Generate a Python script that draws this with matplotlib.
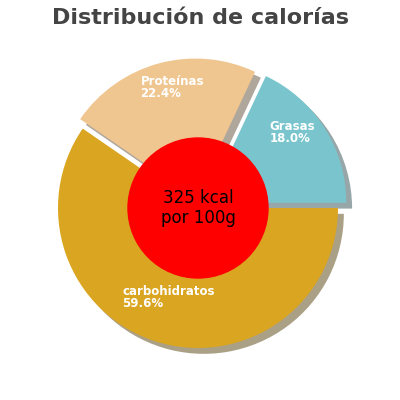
import matplotlib.pyplot as plt

labels = ['Grasas', 'Proteínas', 'carbohidratos']
values = [18.0, 22.4, 59.6]
colors = ['#7ac5cd', '#f0c690', '#daa520']
explode = [0.07, 0.07, 0.0]
label_pos = [(0.51, 0.54), (-0.41, 0.86), (-0.54, -0.64)]

fig = plt.figure(figsize=(4, 4), dpi=100)
ax = fig.add_axes([0.11, 0.095, 0.77, 0.77])
ax.pie(values, colors=colors, explode=explode, startangle=0, counterclock=True,
       shadow={'ox': 0.03, 'oy': -0.03, 'shade': 0.6}, wedgeprops={'linewidth': 0})
ax.add_patch(plt.Circle((0, 0), 0.5, color='red', zorder=5))
ax.text(0, 0, '325 kcal\npor 100g', ha='center', va='center', fontsize=12, zorder=6)
for lab, v, (x, y) in zip(labels, values, label_pos):
    ax.text(x, y, f'{lab}\n{v:.1f}%', color='white', fontsize=8.5, fontweight='bold',
            ha='left', va='center', linespacing=0.9, zorder=6)
ax.set_xlim(-1.1, 1.1)
ax.set_ylim(-1.1, 1.1)
ax.set_aspect('equal')
ax.axis('off')
fig.text(0.5, 0.955, 'Distribución de calorías', ha='center', va='center',
         fontsize=16, fontweight='bold', color='#444444')
fig.savefig('out.png')
